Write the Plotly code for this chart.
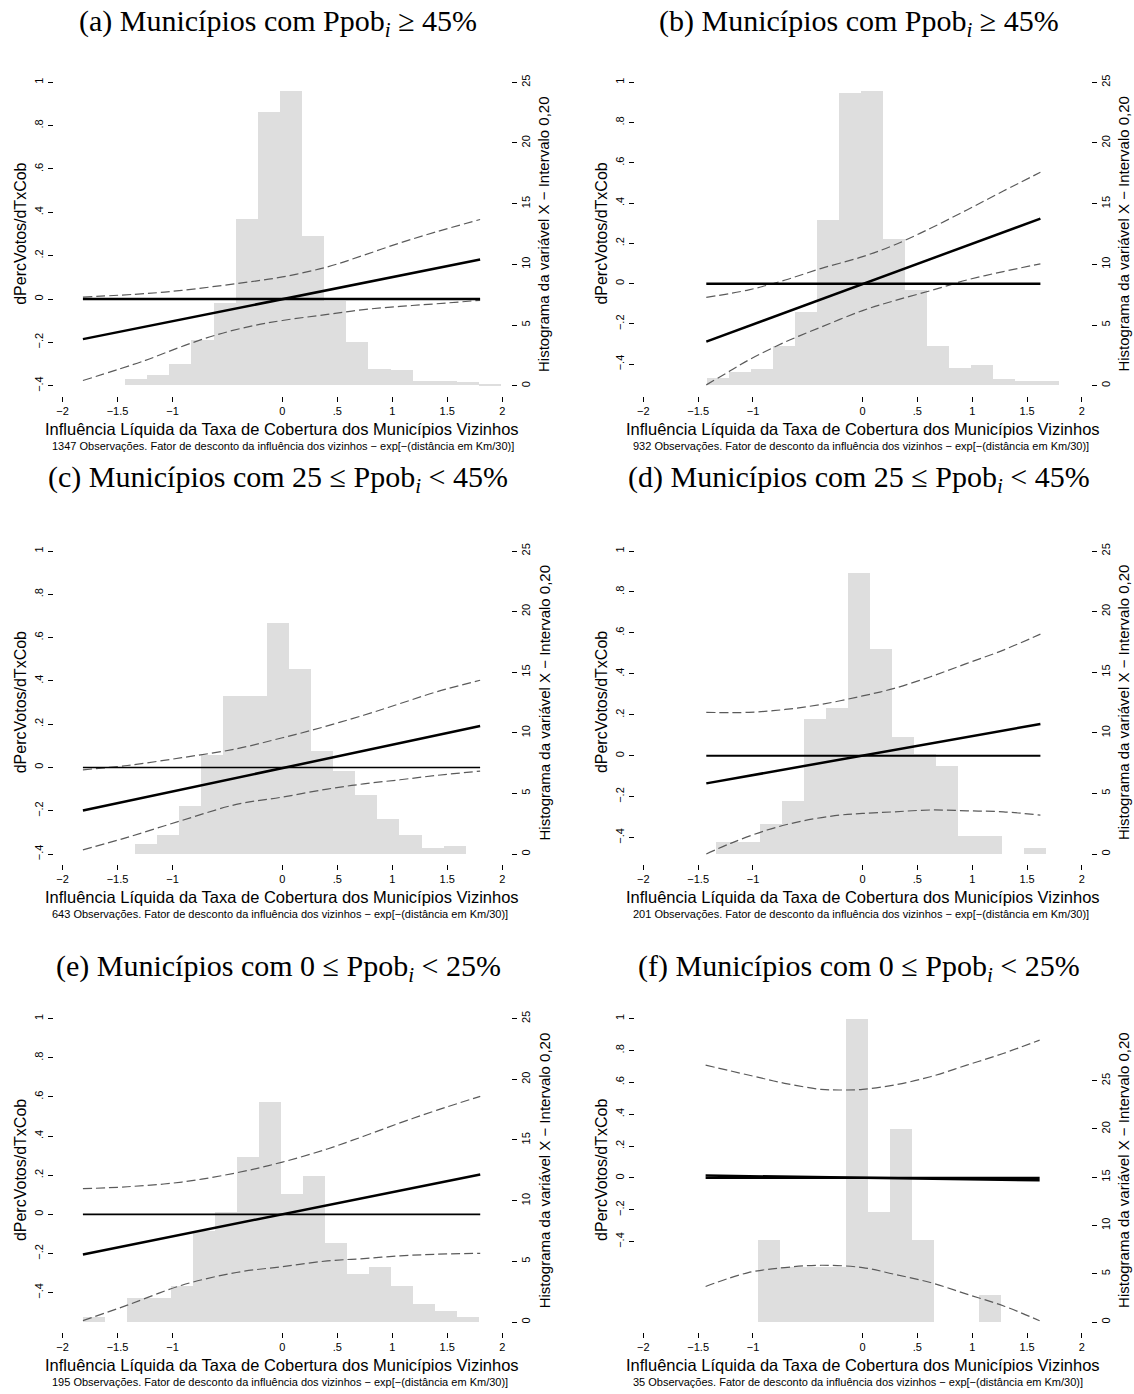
import plotly.graph_objects as go

W, H = 1134, 1394

# ---------------- data ----------------
panel_letters = ["a", "b", "c", "d", "e", "f"]
panel_conditions = ["Ppob<sub><i>i</i></sub> ≥ 45%", "Ppob<sub><i>i</i></sub> ≥ 45%",
                    "25 ≤ Ppob<sub><i>i</i></sub> &lt; 45%", "25 ≤ Ppob<sub><i>i</i></sub> &lt; 45%",
                    "0 ≤ Ppob<sub><i>i</i></sub> &lt; 25%", "0 ≤ Ppob<sub><i>i</i></sub> &lt; 25%"]
n_obs = [1347, 932, 643, 201, 195, 35]

# histogram (percent of observations per 0.20 bin)
bin_start = [-1.434, -1.426, -1.345, -1.343, -1.815, -0.96]
bin_width = [0.2014, 0.2009, 0.2007, 0.2008, 0.2003, 0.2015]
hist_a = [0.55, 0.88, 1.79, 3.76, 6.79, 13.7, 22.5, 24.3, 12.28, 6.98, 3.54, 1.37, 1.29, 0.38, 0.38, 0.25, 0.14]
hist_b = [0.60, 1.10, 1.37, 3.23, 6.02, 13.6, 24.12, 24.23, 12.1, 7.89, 3.23, 1.45, 1.70, 0.49, 0.36, 0.33]
hist_c = [0.83, 1.60, 3.99, 8.20, 13.04, 13.04, 19.06, 15.26, 8.53, 6.88, 4.90, 2.89, 1.60, 0.50, 0.66]
hist_d = [1.02, 1.02, 2.48, 4.37, 11.14, 12.07, 23.18, 16.9, 9.65, 8.22, 7.26, 1.51, 1.51, 0.0, 0.52]
hist_e = [0.47, 0.0, 2.01, 2.01, 3.03, 7.56, 9.13, 13.6, 18.18, 10.59, 12.07, 6.55, 3.99, 4.54, 3.03, 1.51, 0.96, 0.47]
hist_f = [8.57, 5.71, 5.71, 5.71, 31.43, 11.43, 20.0, 8.57, 0.0, 0.0, 2.86]

# marginal effect line (endpoints)
me_x = [[-1.815, 1.799], [-1.426, 1.622], [-1.815, 1.799], [-1.426, 1.622], [-1.815, 1.8], [-1.432, 1.615]]
me_y = [[-0.185, 0.182], [-0.288, 0.323], [-0.199, 0.191], [-0.135, 0.155], [-0.205, 0.204], [0.015, -0.015]]

# confidence band (upper / lower)
up_x_a = [-1.815, -1.246, -0.915, -0.419, 0.0, 0.409, 0.739, 1.07, 1.401, 1.799]
up_y_a = [0.009, 0.025, 0.040, 0.071, 0.102, 0.148, 0.202, 0.259, 0.31, 0.367]
lo_x_a = [-1.815, -1.246, -0.915, -0.584, -0.253, 0.0, 0.409, 0.739, 1.07, 1.401, 1.799]
lo_y_a = [-0.376, -0.283, -0.219, -0.163, -0.122, -0.099, -0.071, -0.049, -0.034, -0.022, -0.006]

up_x_b = [-1.426, -1.038, -0.706, -0.375, 0.0, 0.289, 0.620, 0.952, 1.284, 1.622]
up_y_b = [-0.068, -0.031, 0.018, 0.076, 0.134, 0.192, 0.275, 0.366, 0.46, 0.553]
lo_x_b = [-1.426, -1.204, -1.038, -0.706, -0.375, 0.0, 0.289, 0.620, 0.952, 1.284, 1.622]
lo_y_b = [-0.503, -0.432, -0.379, -0.290, -0.215, -0.134, -0.085, -0.035, 0.018, 0.060, 0.098]

up_x_c = [-1.815, -1.411, -0.915, -0.419, 0.0, 0.26, 0.739, 1.07, 1.401, 1.799]
up_y_c = [-0.011, 0.009, 0.045, 0.086, 0.137, 0.171, 0.241, 0.295, 0.349, 0.403]
lo_x_c = [-1.815, -1.411, -0.915, -0.419, 0.0, 0.409, 0.739, 1.07, 1.401, 1.799]
lo_y_c = [-0.381, -0.323, -0.245, -0.171, -0.137, -0.100, -0.076, -0.057, -0.037, -0.017]

up_x_d = [-1.426, -1.038, -0.706, -0.375, 0.0, 0.289, 0.620, 0.952, 1.284, 1.622]
up_y_d = [0.212, 0.212, 0.226, 0.251, 0.292, 0.329, 0.386, 0.451, 0.516, 0.594]
lo_x_d = [-1.426, -1.204, -0.872, -0.541, -0.209, 0.0, 0.289, 0.620, 0.952, 1.284, 1.622]
lo_y_d = [-0.480, -0.428, -0.363, -0.318, -0.290, -0.282, -0.274, -0.265, -0.269, -0.274, -0.290]

up_x_e = [-1.815, -1.411, -0.915, -0.419, 0.0, 0.409, 0.739, 1.07, 1.401, 1.8]
up_y_e = [0.131, 0.141, 0.165, 0.212, 0.267, 0.334, 0.399, 0.467, 0.531, 0.603]
lo_x_e = [-1.815, -1.411, -0.915, -0.419, 0.0, 0.409, 0.739, 1.07, 1.401, 1.8]
lo_y_e = [-0.543, -0.464, -0.362, -0.297, -0.267, -0.238, -0.226, -0.212, -0.204, -0.199]

up_x_f = [-1.432, -1.043, -0.711, -0.379, -0.213, 0.0, 0.286, 0.618, 0.95, 1.282, 1.615]
up_y_f = [0.708, 0.646, 0.594, 0.556, 0.552, 0.556, 0.583, 0.635, 0.708, 0.781, 0.865]
lo_x_f = [-1.432, -1.043, -0.711, -0.379, 0.0, 0.286, 0.618, 0.95, 1.282, 1.615]
lo_y_f = [-0.681, -0.594, -0.5625, -0.548, -0.5625, -0.604, -0.656, -0.729, -0.802, -0.896]

# axis value ranges (data extent)
line_lo = [-0.4, -0.507, -0.4, -0.48, -0.55, -0.904]
line_hi = [1.0, 1.0, 1.0, 1.0, 1.0, 1.0]
hist_hi = [25, 25, 25, 25, 25, 31.43]

x_tickvals = [-2, -1.5, -1, 0, 0.5, 1, 1.5, 2]
x_ticktext = ["−2", "−1.5", "−1", "0", ".5", "1", "1.5", "2"]
yl_tickvals = [-0.4, -0.2, 0, 0.2, 0.4, 0.6, 0.8, 1]
yl_ticktext = ["−.4", "−.2", "0", ".2", ".4", ".6", ".8", "1"]
yr_tickvals = [0, 5, 10, 15, 20, 25]
yr_ticktext = ["0", "5", "10", "15", "20", "25"]

x_title = "Influência Líquida da Taxa de Cobertura dos Municípios Vizinhos"
yl_title = "dPercVotos/dTxCob"
yr_title = "Histograma da variável X − Intervalo 0,20"
note_tpl = "{} Observações. Fator de desconto da influência dos vizinhos − exp[−(distância em Km/30)]"

hists = [hist_a, hist_b, hist_c, hist_d, hist_e, hist_f]
ups = [(up_x_a, up_y_a), (up_x_b, up_y_b), (up_x_c, up_y_c), (up_x_d, up_y_d), (up_x_e, up_y_e), (up_x_f, up_y_f)]
los = [(lo_x_a, lo_y_a), (lo_x_b, lo_y_b), (lo_x_c, lo_y_c), (lo_x_d, lo_y_d), (lo_x_e, lo_y_e), (lo_x_f, lo_y_f)]

# ---------------- layout geometry (pixels) ----------------
col_dom = [(53.8, 511.0), (634.6, 1090.6)]
x_range = [-2.08, 2.08]
row_top = [82.3, 551.0, 1018.6]
row_bot = [385.7, 854.0, 1322.0]
pad = 10.0
title_y = [22, 478, 967]
zero_w = [2.5, 2.5, 1.6, 2.2, 1.6, 2.2]

SANS = "Liberation Sans, Arial, sans-serif"
SERIF = "Liberation Serif, Times New Roman, serif"
HIST_COLOR = "#dedede"
CI_COLOR = "#5a5a5a"

fig = go.Figure()
layout = dict(width=W, height=H, margin=dict(l=0, r=0, t=0, b=0),
              paper_bgcolor="white", plot_bgcolor="white", showlegend=False,
              font=dict(family=SANS, color="black"))
annotations = []

for i in range(6):
    row, col = divmod(i, 2)
    xname = "x" if i == 0 else f"x{i+1}"
    yh = "y" if i == 0 else f"y{2*i+1}"
    yl = f"y{2*i+2}"
    xkey = "xaxis" if i == 0 else f"xaxis{i+1}"
    yhkey = "yaxis" if i == 0 else f"yaxis{2*i+1}"
    ylkey = f"yaxis{2*i+2}"

    top, bot = row_top[row], row_bot[row]
    span = bot - top
    dom_y = [1 - (bot + pad) / H, 1 - (top - pad) / H]
    x0, x1 = col_dom[col]

    # ranges so data extents map onto the same pixels
    hpad = pad * hist_hi[i] / span
    hr = [0 - hpad, hist_hi[i] + hpad]
    lpad = pad * (line_hi[i] - line_lo[i]) / span
    lr = [line_lo[i] - lpad, line_hi[i] + lpad]

    h = hists[i]
    centers = [bin_start[i] + bin_width[i] * (k + 0.5) for k in range(len(h))]
    fig.add_trace(go.Bar(x=centers, y=h, width=bin_width[i], marker=dict(color=HIST_COLOR, line=dict(width=0)),
                         xaxis=xname, yaxis=yh, hoverinfo="skip"))

    fig.add_trace(go.Scatter(x=ups[i][0], y=ups[i][1], mode="lines", line=dict(color=CI_COLOR, width=1.2, dash="9px,4px", shape="spline"),
                             xaxis=xname, yaxis=yl))
    fig.add_trace(go.Scatter(x=los[i][0], y=los[i][1], mode="lines", line=dict(color=CI_COLOR, width=1.2, dash="9px,4px", shape="spline"),
                             xaxis=xname, yaxis=yl))
    fig.add_trace(go.Scatter(x=me_x[i], y=[0, 0], mode="lines", line=dict(color="black", width=zero_w[i]),
                             xaxis=xname, yaxis=yl))
    fig.add_trace(go.Scatter(x=me_x[i], y=me_y[i], mode="lines", line=dict(color="black", width=2.5),
                             xaxis=xname, yaxis=yl))

    tickfont = dict(family=SANS, size=11, color="black")
    layout[xkey] = dict(domain=[x0 / W, x1 / W], range=x_range, anchor=yh, tickvals=x_tickvals, ticktext=x_ticktext,
                        ticks="outside", ticklen=5, tickwidth=1, tickcolor="black", showline=False, showgrid=False,
                        zeroline=False, tickfont=tickfont, fixedrange=True)
    layout[yhkey] = dict(domain=dom_y, range=hr, anchor=xname, side="right", tickvals=yr_tickvals, ticktext=yr_ticktext,
                         ticks="outside", ticklen=5, tickwidth=1, tickcolor="black", tickangle=-90, showline=False,
                         showgrid=False, zeroline=False, tickfont=tickfont)
    layout[ylkey] = dict(domain=dom_y, range=lr, anchor=xname, overlaying=yh, side="left", tickvals=yl_tickvals,
                         ticktext=yl_ticktext, ticks="outside", ticklen=5, tickwidth=1, tickcolor="black", tickangle=-90,
                         showline=False, showgrid=False, zeroline=False, tickfont=tickfont)

    cx = (x0 + x1) / 2
    cy = (top + bot) / 2
    # panel title
    annotations.append(dict(text=f"({panel_letters[i]}) Municípios com {panel_conditions[i]}", x=(cx - 4) / W,
                            y=1 - (title_y[row] + 1) / H, xref="paper", yref="paper", xanchor="center", yanchor="middle",
                            showarrow=False, font=dict(family=SERIF, size=30, color="black")))
    # x title
    annotations.append(dict(text=x_title, x=cx / W, y=1 - (bot + pad + 33) / H, xref="paper", yref="paper",
                            xanchor="center", yanchor="middle", showarrow=False, font=dict(family=SANS, size=16.5)))
    # note
    annotations.append(dict(text=note_tpl.format(n_obs[i]), x=(x0 - 4) / W, y=1 - (bot + pad + 50) / H,
                            xref="paper", yref="paper", xanchor="left", yanchor="middle", showarrow=False,
                            font=dict(family=SANS, size=11)))
    # left y title
    annotations.append(dict(text=yl_title, x=(x0 - 33) / W, y=1 - cy / H, xref="paper", yref="paper",
                            xanchor="center", yanchor="middle", textangle=-90, showarrow=False,
                            font=dict(family=SANS, size=16)))
    # right y title
    annotations.append(dict(text=yr_title, x=(x1 + 33) / W, y=1 - cy / H, xref="paper", yref="paper",
                            xanchor="center", yanchor="middle", textangle=-90, showarrow=False,
                            font=dict(family=SANS, size=15)))

layout["annotations"] = annotations
layout["bargap"] = 0
fig.update_layout(**layout)
fig.write_html("out.html")
